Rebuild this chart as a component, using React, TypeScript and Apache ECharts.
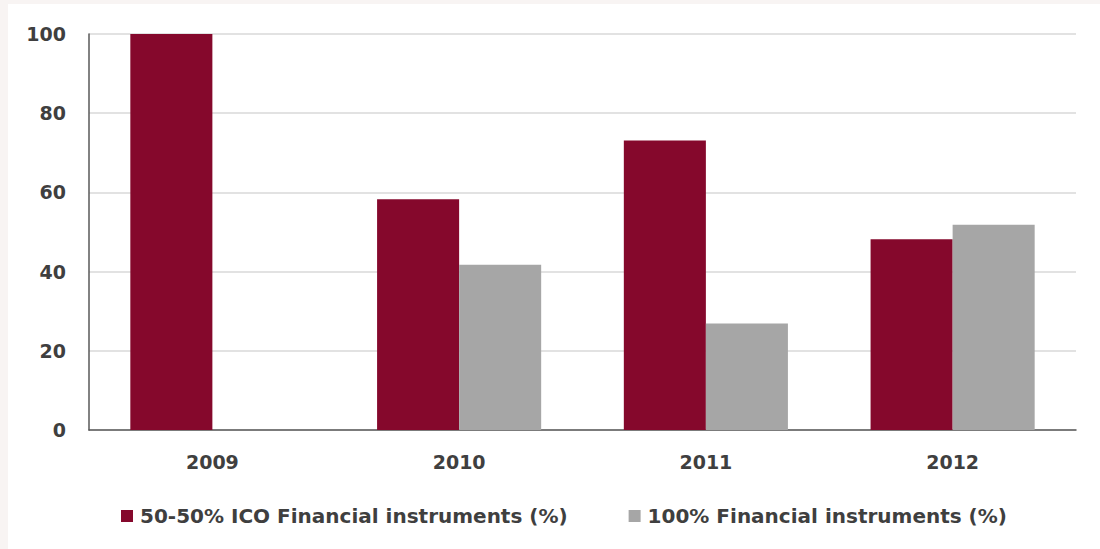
import React, { useEffect, useRef } from "react";
import * as echarts from "echarts";

const categories = ["2009", "2010", "2011", "2012"];
const seriesIco = [100, 58.3, 73.1, 48.2];
const seriesFull = [0, 41.7, 26.9, 51.8];
const seriesNames = ["50-50% ICO Financial instruments (%)", "100% Financial instruments (%)"];
const yTicks = { min: 0, max: 100, interval: 20 };

const FONT = "'DejaVu Sans', sans-serif";
const TEXT = "#3f3f3f";

export default function App() {
  const ref = useRef<HTMLDivElement>(null);
  useEffect(() => {
    if (!ref.current) return;
    const chart = echarts.init(ref.current, undefined, { renderer: "svg" });
    chart.setOption({
      animation: false,
      backgroundColor: "#f8f4f3",
      graphic: [
        { type: "rect", left: 8, top: 4, shape: { width: 1092, height: 545 }, style: { fill: "#ffffff" }, z: -10 },
      ],
      grid: { left: 89, right: 24, top: 34, bottom: 119, containLabel: false },
      legend: {
        left: 121,
        top: 506,
        padding: 0,
        itemWidth: 12,
        itemHeight: 12,
        itemGap: 61,
        icon: "rect",
        textStyle: { fontFamily: FONT, fontWeight: "bold", fontSize: 20, color: TEXT, padding: [0, 0, 0, 2] },
        data: seriesNames,
      },
      xAxis: {
        type: "category",
        data: categories,
        axisTick: { show: false },
        axisLine: { show: true, lineStyle: { color: "#595959", width: 1.5 } },
        axisLabel: { margin: 22, fontFamily: FONT, fontWeight: "bold", fontSize: 19, color: TEXT },
      },
      yAxis: {
        type: "value",
        min: yTicks.min,
        max: yTicks.max,
        interval: yTicks.interval,
        axisLine: { show: true, lineStyle: { color: "#595959", width: 1.5 } },
        axisTick: { show: false },
        splitLine: { show: true, lineStyle: { color: "#d9d9d9", width: 1.5 } },
        axisLabel: { margin: 23, fontFamily: FONT, fontWeight: "bold", fontSize: 19, color: TEXT },
      },
      series: [
        {
          name: seriesNames[0],
          type: "bar",
          data: seriesIco,
          barGap: "0%",
          barCategoryGap: "33.5%",
          itemStyle: { color: "#85082c" },
        },
        {
          name: seriesNames[1],
          type: "bar",
          data: seriesFull,
          barGap: "0%",
          barCategoryGap: "33.5%",
          itemStyle: { color: "#a6a6a6" },
        },
      ],
    });
    return () => chart.dispose();
  }, []);
  return (
    <div
      ref={ref}
      style={{ position: "fixed", left: 0, top: 0, width: 1100, height: 549 }}
    />
  );
}
